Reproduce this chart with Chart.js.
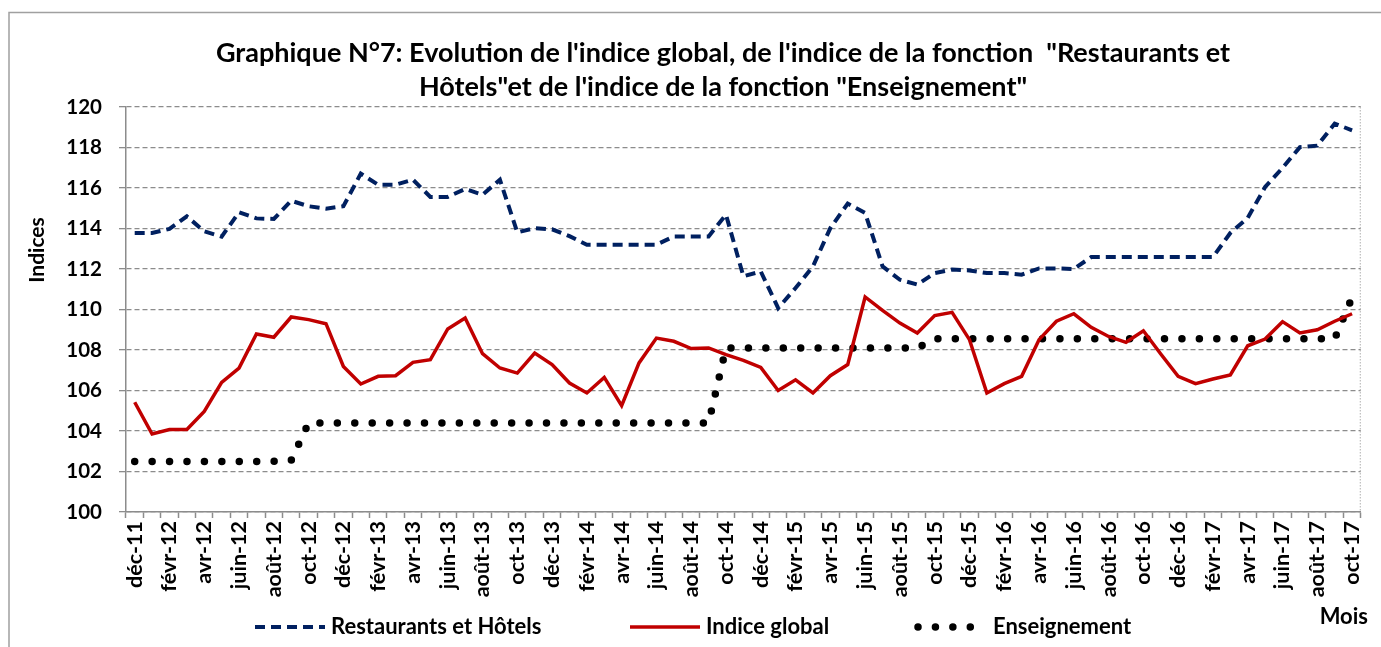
<!DOCTYPE html>
<html>
<head>
<meta charset="utf-8">
<script src="https://cdn.jsdelivr.net/npm/chart.js@4.4.0/dist/chart.umd.min.js"></script>
<style>
  body { margin: 0; background: #fff; }
  canvas { display: block; }
</style>
</head>
<body>
<canvas id="myChart" width="1381" height="647"></canvas>
<script>
// mois de déc-11 à oct-17
let moisLabels = [
    'déc-11',
    'janv-12', 'févr-12', 'mars-12', 'avr-12', 'mai-12', 'juin-12', 'juil-12', 'août-12', 'sept-12', 'oct-12', 'nov-12', 'déc-12',
    'janv-13', 'févr-13', 'mars-13', 'avr-13', 'mai-13', 'juin-13', 'juil-13', 'août-13', 'sept-13', 'oct-13', 'nov-13', 'déc-13',
    'janv-14', 'févr-14', 'mars-14', 'avr-14', 'mai-14', 'juin-14', 'juil-14', 'août-14', 'sept-14', 'oct-14', 'nov-14', 'déc-14',
    'janv-15', 'févr-15', 'mars-15', 'avr-15', 'mai-15', 'juin-15', 'juil-15', 'août-15', 'sept-15', 'oct-15', 'nov-15', 'déc-15',
    'janv-16', 'févr-16', 'mars-16', 'avr-16', 'mai-16', 'juin-16', 'juil-16', 'août-16', 'sept-16', 'oct-16', 'nov-16', 'déc-16',
    'janv-17', 'févr-17', 'mars-17', 'avr-17', 'mai-17', 'juin-17', 'juil-17', 'août-17', 'sept-17', 'oct-17'
];

let restaurantsHotels = [
    113.78,
    113.78, 113.98, 114.60, 113.86, 113.60, 114.80, 114.50, 114.47, 115.37, 115.10, 114.98, 115.10,
    116.71, 116.16, 116.16, 116.41, 115.56, 115.56, 115.95, 115.67, 116.41, 113.81, 114.02, 113.96,
    113.62, 113.20, 113.20, 113.20, 113.20, 113.20, 113.61, 113.61, 113.61, 114.68, 111.64, 111.88,
    110.07, 111.06, 112.13, 114.02, 115.23, 114.77, 112.13, 111.47, 111.23, 111.80, 111.97, 111.93,
    111.80, 111.80, 111.72, 112.03, 112.03, 112.00, 112.59, 112.59, 112.59, 112.59, 112.59, 112.59,
    112.59, 112.59, 113.78, 114.52, 116.05, 116.99, 118.02, 118.09, 119.18, 118.85
];

let indiceGlobal = [
    105.42,
    103.85, 104.07, 104.07, 104.97, 106.40, 107.11, 108.79, 108.63, 109.63, 109.50, 109.30, 107.19,
    106.32, 106.70, 106.73, 107.39, 107.52, 109.04, 109.58, 107.82, 107.11, 106.86, 107.85, 107.28,
    106.37, 105.88, 106.65, 105.25, 107.36, 108.59, 108.43, 108.07, 108.10, 107.77, 107.49, 107.14,
    106.00, 106.53, 105.88, 106.73, 107.28, 110.62, 109.96, 109.33, 108.84, 109.70, 109.86, 108.51,
    105.88, 106.34, 106.70, 108.51, 109.42, 109.79, 109.12, 108.67, 108.38, 108.95, 107.80, 106.70,
    106.34, 106.57, 106.77, 108.21, 108.54, 109.40, 108.84, 109.00, 109.42, 109.79
];

let enseignement = [
    102.50,
    102.50, 102.50, 102.50, 102.50, 102.50, 102.50, 102.50, 102.50, 102.55, 104.40, 104.40, 104.40,
    104.40, 104.40, 104.40, 104.40, 104.40, 104.40, 104.40, 104.40, 104.40, 104.40, 104.40, 104.40,
    104.40, 104.40, 104.40, 104.40, 104.40, 104.40, 104.40, 104.40, 104.40, 108.10, 108.10, 108.10,
    108.10, 108.10, 108.10, 108.10, 108.10, 108.10, 108.10, 108.10, 108.10, 108.55, 108.55, 108.55,
    108.55, 108.55, 108.55, 108.55, 108.55, 108.55, 108.55, 108.55, 108.55, 108.55, 108.55, 108.55,
    108.55, 108.55, 108.55, 108.55, 108.55, 108.55, 108.55, 108.55, 108.55, 110.60
];

let titreLignes = [
    'Graphique N°7: Evolution de l\'indice global, de l\'indice de la fonction  "Restaurants et',
    'Hôtels"et de l\'indice de la fonction "Enseignement"'
];

const police = 'Lato';
const gris = '#8c8c8c';

// cadre, titre, titre d'axe, "Mois" et légende dessinés à la main (placement façon Excel)
const habillage = {
    id: 'habillage',
    afterDraw(chart) {
        const ctx = chart.ctx;
        const area = chart.chartArea;
        ctx.save();

        ctx.strokeStyle = '#a0a0a0';
        ctx.lineWidth = 1.5;
        ctx.strokeRect(9, 12.5, 1400, 700);

        ctx.strokeStyle = '#b0b0b0';
        ctx.lineWidth = 1;
        ctx.setLineDash([1.5, 1.5]);
        ctx.beginPath();
        ctx.moveTo(area.right - 0.5, area.top);
        ctx.lineTo(area.right - 0.5, area.bottom);
        ctx.stroke();
        ctx.setLineDash([]);

        ctx.fillStyle = '#000';
        ctx.textAlign = 'center';
        ctx.textBaseline = 'middle';
        ctx.font = 'bold 27px ' + police;
        ctx.fillText(titreLignes[0], 723, 53);
        ctx.fillText(titreLignes[1], 723, 87);

        ctx.font = 'bold 21px ' + police;
        ctx.save();
        ctx.translate(37, 250);
        ctx.rotate(-Math.PI / 2);
        ctx.fillText('Indices', 0, 0);
        ctx.restore();

        ctx.font = 'bold 22px ' + police;
        ctx.textAlign = 'right';
        ctx.fillText('Mois', 1368, 617);

        // légende
        const legX = [255, 630, 918];
        const legLen = [70, 70, 57];
        const y = 627;
        chart.data.datasets.forEach((ds, i) => {
            ctx.save();
            ctx.strokeStyle = ds.borderColor;
            ctx.lineWidth = ds.borderWidth;
            ctx.lineCap = ds.borderCapStyle || 'butt';
            ctx.setLineDash(ds.borderDash || []);
            ctx.beginPath();
            ctx.moveTo(legX[i], y);
            ctx.lineTo(legX[i] + legLen[i], y);
            ctx.stroke();
            ctx.restore();
            ctx.textAlign = 'left';
            ctx.fillText(ds.label, legX[i] + legLen[i] + (i === 2 ? 18 : 6), y);
        });
        ctx.restore();
    }
};

let ctx1 = document.getElementById('myChart').getContext('2d');
let myChart = new Chart(ctx1, {
    type: 'line',
    data: {
        labels: moisLabels,
        datasets: [{
            label: 'Restaurants et Hôtels',
            data: restaurantsHotels,
            borderColor: '#002060',
            borderWidth: 4,
            borderDash: [10, 6],
            pointRadius: 0,
            tension: 0
        }, {
            label: 'Indice global',
            data: indiceGlobal,
            borderColor: '#c00000',
            borderWidth: 3.5,
            pointRadius: 0,
            tension: 0
        }, {
            label: 'Enseignement',
            data: enseignement,
            borderColor: '#000000',
            borderWidth: 7.5,
            borderDash: [0, 17.43],
            borderCapStyle: 'round',
            borderJoinStyle: 'round',
            pointRadius: 0,
            tension: 0
        }]
    },
    options: {
        responsive: false,
        animation: false,
        devicePixelRatio: 1,
        layout: {
            padding: { left: 0, right: 18, top: 107, bottom: 0 }
        },
        plugins: {
            legend: { display: false },
            tooltip: { enabled: false },
            title: { display: false }
        },
        scales: {
            x: {
                offset: true,
                afterFit: (s) => { s.height = 135; },
                grid: {
                    display: true,
                    drawOnChartArea: false,
                    drawTicks: true,
                    offset: true,
                    tickLength: 6,
                    tickColor: gris,
                    tickWidth: 1.5
                },
                border: { color: gris, width: 1.5 },
                ticks: {
                    autoSkip: false,
                    minRotation: 90,
                    maxRotation: 90,
                    padding: 3,
                    color: '#000',
                    font: { family: police, size: 21.5, weight: 'bold' },
                    callback: function (val, index) {
                        return index % 2 === 0 ? this.getLabelForValue(val) : '';
                    }
                }
            },
            y: {
                min: 100,
                max: 120,
                afterFit: (s) => { s.width = 126; },
                grid: {
                    color: gris,
                    lineWidth: 1.3,
                    drawTicks: true,
                    tickLength: 7,
                    tickColor: gris,
                    tickWidth: 1.3,
                    tickBorderDash: []
                },
                border: { color: gris, width: 1.5, dash: [5, 3] },
                ticks: {
                    stepSize: 2,
                    padding: 17,
                    color: '#000',
                    font: { family: police, size: 20.5, weight: 'bold' }
                }
            }
        }
    },
    plugins: [habillage]
});
</script>
</body>
</html>
